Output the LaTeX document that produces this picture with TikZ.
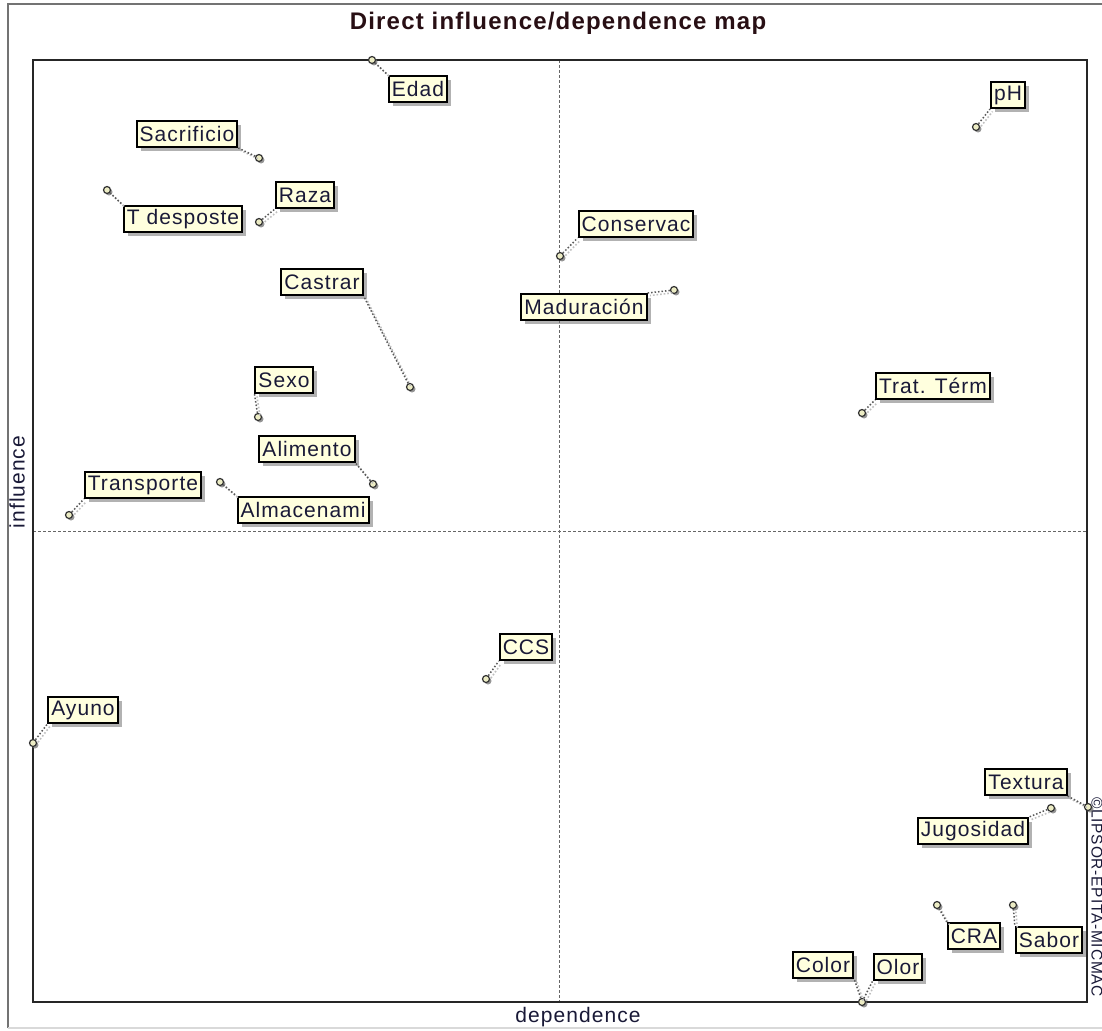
\documentclass[tikz,border=0pt]{standalone}
\usepackage{fontspec}
\setmainfont{Liberation Sans}[LetterSpace=5]
\usetikzlibrary{shadows}
\definecolor{ink}{RGB}{25,25,55}
\definecolor{titleink}{RGB}{40,15,20}
\definecolor{cream}{RGB}{255,255,222}
\definecolor{dotfill}{RGB}{236,236,196}
\newcommand\tie[2]{%
  \draw[linkshade,transform canvas={xshift=2.5pt,yshift=-2.5pt}] (#1) -- (#2);
  \draw[link] (#1) -- (#2);}
\begin{document}
\begin{tikzpicture}[x=1pt,y=-1pt,
  lbl/.style={draw=black, line width=2pt, fill=cream, text=ink,
    font=\fontsize{21}{24}\selectfont, inner xsep=3pt, inner ysep=0pt,
    minimum height=26pt,
    drop shadow={shadow xshift=4pt, shadow yshift=-4pt, opacity=0.55, fill=black!55}},
  pt/.style={circle, inner sep=0pt, minimum size=7pt, draw=black!80,
    line width=1.2pt, fill=dotfill,
    drop shadow={shadow xshift=2pt, shadow yshift=-2pt, opacity=0.75, fill=black!55}},
  link/.style={draw=black!65, dotted, line width=1.5pt},
  linkshade/.style={draw=black!25, dotted, line width=1.6pt},
  axisline/.style={draw=black!60, dash pattern=on 3pt off 2pt, line width=0.8pt},
  axislabel/.style={text=ink, font=\fontsize{21}{24}\selectfont, inner sep=0pt}]

\useasboundingbox (0,0) rectangle (1102,1030);
\fill[white] (0,0) rectangle (1102,1030);

% window border
\draw[black!55, line width=2pt] (8,1028) -- (8,4) -- (1102,4);
\draw[black!15, line width=1.5pt] (8,1028) -- (1102,1028);

% title
\node[text=titleink, font=\bfseries\fontsize{24}{28}\selectfont, inner sep=0pt]
  (title) at (558,23) {Direct influence/dependence map};

% plot frame and quadrant lines
\draw[axisline] (559,60) -- (559,1002);
\draw[axisline] (33,531) -- (1087,531);
\draw[black!85, line width=1.8pt] (33,60) rectangle (1087,1002);

% axis labels
\node[axislabel, rotate=90] (ylab) at (17,482) {influence};
\node[axislabel] (xlab) at (578,1017) {dependence};
\node[text=ink, font=\fontsize{15.5}{18}\selectfont, inner sep=0pt, rotate=-90, anchor=west]
  (copy) at (1097,797) {©LIPSOR-EPITA-MICMAC};

% variables: labels
\node[lbl] (edad) at (418,89) {Edad};
\node[lbl] (sacr) at (187,134) {Sacrificio};
\node[lbl] (tdes) at (183,219) {T desposte};
\node[lbl] (raza) at (305,195) {Raza};
\node[lbl] (cons) at (636,224) {Conservac};
\node[lbl] (madu) at (584,307) {Maduración};
\node[lbl] (ph) at (1008,95) {pH};
\node[lbl] (cast) at (322,282) {Castrar};
\node[lbl] (sexo) at (284,380) {Sexo};
\node[lbl] (trat) at (933,386) {Trat. Térm};
\node[lbl] (alim) at (307,449) {Alimento};
\node[lbl] (tran) at (143,485) {Transporte};
\node[lbl] (alma) at (303,510) {Almacenami};
\node[lbl] (ccs) at (526,647) {CCS};
\node[lbl] (ayun) at (83,710) {Ayuno};
\node[lbl] (text) at (1026,782) {Textura};
\node[lbl] (jugo) at (973,831) {Jugosidad};
\node[lbl] (cra) at (974,936) {CRA};
\node[lbl] (sabo) at (1049,940) {Sabor};
\node[lbl] (colo) at (823,965) {Color};
\node[lbl] (olor) at (898,967) {Olor};

% variables: plotted positions
\node[pt] (p-edad) at (372,60) {};
\node[pt] (p-sacr) at (259,158) {};
\node[pt] (p-tdes) at (107,190) {};
\node[pt] (p-raza) at (259,222) {};
\node[pt] (p-cons) at (560,256) {};
\node[pt] (p-madu) at (674,290) {};
\node[pt] (p-ph) at (976,127) {};
\node[pt] (p-cast) at (410,387) {};
\node[pt] (p-sexo) at (258,417) {};
\node[pt] (p-trat) at (862,413) {};
\node[pt] (p-alim) at (373,484) {};
\node[pt] (p-tran) at (69,515) {};
\node[pt] (p-alma) at (220,482) {};
\node[pt] (p-ccs) at (486,679) {};
\node[pt] (p-ayun) at (33,743) {};
\node[pt] (p-text) at (1088,807) {};
\node[pt] (p-jugo) at (1051,808) {};
\node[pt] (p-cra) at (937,905) {};
\node[pt] (p-sabo) at (1013,905) {};
\node[pt] (p-colo) at (862,1002) {};

% leader lines
\tie{p-edad}{edad.north west}
\tie{p-sacr}{sacr.south east}
\tie{p-tdes}{tdes.north west}
\tie{p-raza}{raza.south west}
\tie{p-cons}{cons.south west}
\tie{p-madu}{madu.north east}
\tie{p-ph}{ph.south west}
\tie{p-cast}{cast.south east}
\tie{p-sexo}{sexo.south west}
\tie{p-trat}{trat.south west}
\tie{p-alim}{alim.south east}
\tie{p-tran}{tran.south west}
\tie{p-alma}{alma.north west}
\tie{p-ccs}{ccs.south west}
\tie{p-ayun}{ayun.south west}
\tie{p-text}{text.south east}
\tie{p-jugo}{jugo.north east}
\tie{p-cra}{cra.north west}
\tie{p-sabo}{sabo.north west}
\tie{p-colo}{colo.south east}
\tie{p-colo}{olor.south west}
\end{tikzpicture}
\end{document}
